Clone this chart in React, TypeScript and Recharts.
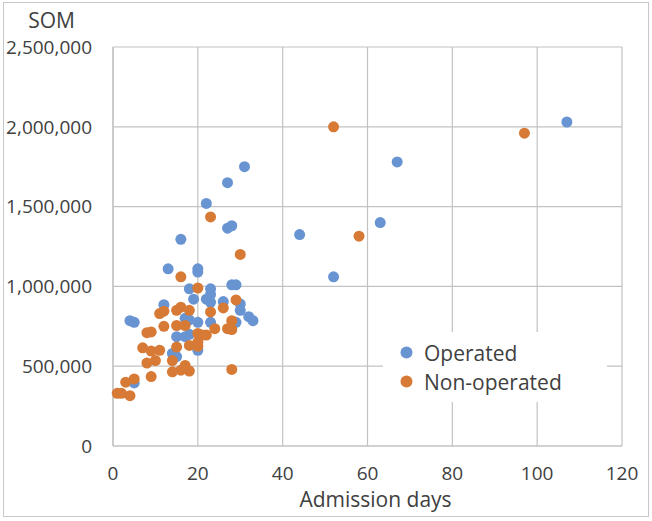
import { ScatterChart, Scatter, XAxis, YAxis, CartesianGrid, Legend } from "recharts";

const operatedDays = [
  107, 67, 63, 44, 52, 31, 27, 22, 27, 28, 16, 13, 20, 20, 18, 23, 23, 28, 29, 19, 22,
  23, 26, 30, 12, 30, 32, 33, 4, 5, 17, 18, 20, 23, 29, 15, 17, 18, 20, 14, 15, 5,
];
const operatedSom = [
  2030000, 1780000, 1400000, 1325000, 1060000, 1750000, 1650000, 1520000, 1365000, 1380000,
  1295000, 1110000, 1110000, 1090000, 985000, 985000, 950000, 1010000, 1010000, 920000, 920000,
  900000, 905000, 890000, 885000, 850000, 810000, 785000, 785000, 775000, 800000, 790000,
  775000, 775000, 775000, 685000, 685000, 700000, 600000, 580000, 560000, 395000,
];

const nonOperatedDays = [
  52, 97, 58, 23, 30, 16, 20, 29, 12, 11, 16, 15, 18, 23, 26, 28, 27, 28, 24, 15, 17, 12,
  8, 9, 20, 22, 21, 7, 9, 11, 15, 18, 20, 20, 14, 8, 10, 17, 16, 14, 18, 28, 9, 3, 5, 1, 2, 4,
];
const nonOperatedSom = [
  2000000, 1960000, 1315000, 1435000, 1200000, 1060000, 990000, 915000, 845000, 830000, 870000,
  850000, 850000, 840000, 865000, 785000, 735000, 730000, 735000, 755000, 755000, 750000,
  710000, 715000, 705000, 695000, 695000, 615000, 595000, 600000, 620000, 630000, 625000,
  650000, 535000, 520000, 535000, 505000, 475000, 465000, 470000, 480000, 435000, 400000,
  420000, 330000, 330000, 315000,
];

const xTicks = [0, 20, 40, 60, 80, 100, 120];
const yTicks = [0, 500000, 1000000, 1500000, 2000000, 2500000];

const seriesNames = ["Operated", "Non-operated"];
const seriesColors = ["#6894d2", "#d67a36"];

const toPoints = (xs: number[], ys: number[]) => xs.map((x, i) => ({ x, y: ys[i] }));

const operated = toPoints(operatedDays, operatedSom);
const nonOperated = toPoints(nonOperatedDays, nonOperatedSom);

const FONT = "'Open Sans', sans-serif";
const TEXT = "#404040";
const GRID = "#c2c2c2";

const dot = (color: string) => (props: any) => (
  <circle cx={props.cx} cy={props.cy} r={5.5} fill={color} />
);

function LegendBox() {
  return (
    <div style={{ fontFamily: FONT, fontSize: 21, color: TEXT, padding: "6px 0 0 17px" }}>
      {seriesNames.map((name, i) => (
        <div key={name} style={{ display: "flex", alignItems: "center", height: 29 }}>
          <svg width={13} height={13} style={{ marginRight: 11 }}>
            <circle cx={6.5} cy={6.5} r={6} fill={seriesColors[i]} />
          </svg>
          <span>{name}</span>
        </div>
      ))}
    </div>
  );
}

export default function App() {
  return (
    <div style={{ position: "absolute", left: 0, top: 0, width: 652, height: 521, background: "#fff" }}>
      <div
        style={{
          position: "absolute",
          left: 3,
          top: 2,
          width: 646,
          height: 515,
          border: "1px solid #c8c8c8",
          boxSizing: "border-box",
          pointerEvents: "none",
        }}
      />
      <ScatterChart width={652} height={521} margin={{ top: 47, right: 30, bottom: 0, left: 0 }}>
        <CartesianGrid stroke={GRID} strokeWidth={1.2} />
        <XAxis
          type="number"
          dataKey="x"
          domain={[0, 120]}
          ticks={xTicks}
          height={75}
          tickSize={0}
          tickMargin={21}
          axisLine={{ stroke: GRID, strokeWidth: 1.2 }}
          tick={{ fill: TEXT, fontSize: 19, fontFamily: FONT }}
          label={{
            value: "Admission days",
            position: "insideBottom",
            offset: 14,
            dx: 8,
            fill: TEXT,
            fontSize: 21,
            fontFamily: FONT,
          }}
        />
        <YAxis
          type="number"
          dataKey="y"
          domain={[0, 2500000]}
          ticks={yTicks}
          width={113}
          tickSize={0}
          tickMargin={21}
          axisLine={{ stroke: GRID, strokeWidth: 1.2 }}
          tickFormatter={(v: number) => v.toLocaleString("en-US")}
          tick={{ fill: TEXT, fontSize: 19, fontFamily: FONT }}
          label={{
            value: "SOM",
            position: "top",
            offset: 19,
            dx: -5,
            fill: TEXT,
            fontSize: 21,
            fontFamily: FONT,
          }}
        />
        <Legend
          layout="vertical"
          align="center"
          verticalAlign="middle"
          content={() => <LegendBox />}
          wrapperStyle={{ left: 383, top: 332, width: 224, height: 70, background: "#fff" }}
        />
        <Scatter
          name={seriesNames[0]}
          data={operated}
          fill={seriesColors[0]}
          shape={dot(seriesColors[0])}
          isAnimationActive={false}
        />
        <Scatter
          name={seriesNames[1]}
          data={nonOperated}
          fill={seriesColors[1]}
          shape={dot(seriesColors[1])}
          isAnimationActive={false}
        />
      </ScatterChart>
    </div>
  );
}
